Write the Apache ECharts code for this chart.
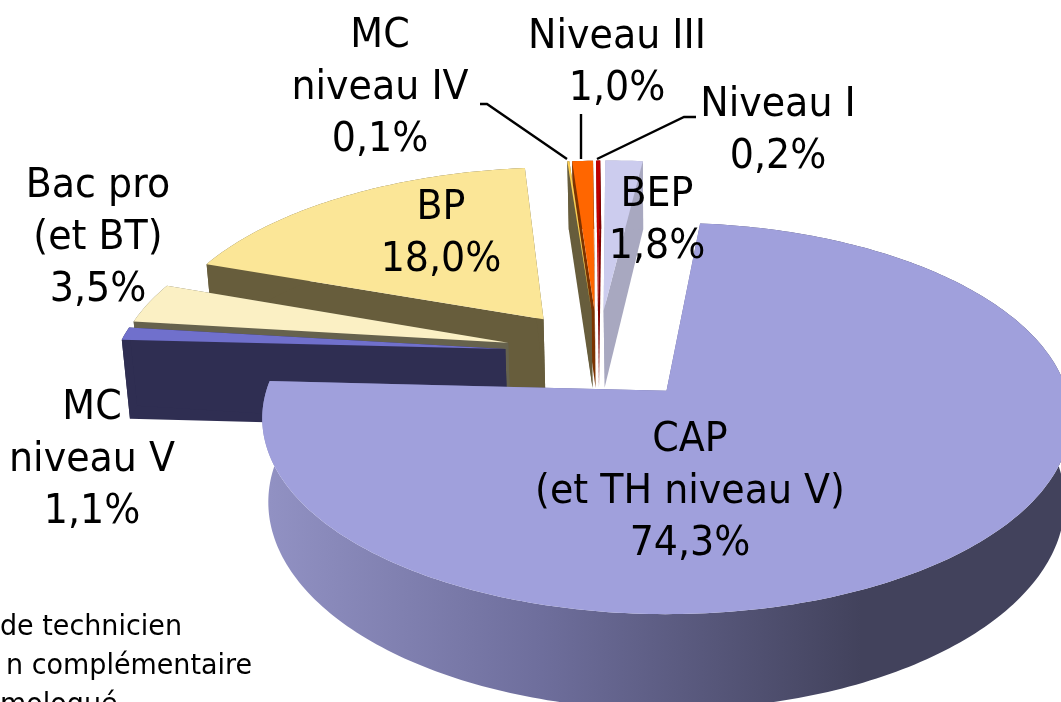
<!DOCTYPE html>
<html>
<head>
<meta charset="utf-8">
<title>Repartition par niveau</title>
<style>
html, body { margin: 0; padding: 0; background: #fff; }
#chart { width: 1061px; height: 702px; }
</style>
<script src="https://cdn.jsdelivr.net/npm/echarts@6/dist/echarts.min.js"></script>
</head>
<body>
<div id="chart"></div>
<script>
// parts en % , sens horaire depuis le haut
var categories = ['CAP', 'MC niveau V', 'Bac pro', 'BP', 'MC niveau IV', 'Niveau III', 'Niveau I', 'BEP'];
var shares = [74.3, 1.1, 3.5, 18.0, 0.1, 1.0, 0.2, 1.8];
var shareLabels = ['74,3%', '1,1%', '3,5%', '18,0%', '0,1%', '1,0%', '0,2%', '1,8%'];
var labelNames = ['CAP\n(et TH niveau V)', 'MC\nniveau V', 'Bac pro\n(et BT)', 'BP', 'MC\nniveau IV', 'Niveau III', 'Niveau I', 'BEP'];
var footnotes = ['de technicien', 'n complémentaire', 'mologué'];

var topColors = ['#a0a0dc', '#7070cc', '#fbf0c4', '#fbe697', '#ffd050', '#ff6600', '#c00000', '#ccccee'];
var wallColors = ['#666699', '#2f2e52', '#66624d', '#675d3c', '#675d3c', '#7d3300', '#800000', '#a8a8c0'];
var labelPos = [[690, 493], [92, 461], [98, 239], [441, 235], [380, 89], [617, 64], [778, 132], [657, 222]];
var explode = [0.27, 0.24, 0.24, 0.24, 0.24, 0.24, 0.24, 0.24];

// projection du disque (perspective simple)
var originX = 666, originY = 390;
var scaleX = 400, scaleY = 191.6;
var persp = 0.1407;
var thick = 82;
var bottomShrink = 0.985;
var pieU = -0.175, pieV = -0.2;//centre du camembert
var firstAngle = 5.5;

function project(u, v, bottom) {
	var w = 1 - persp * v;
	return [
		originX + scaleX * u / w * (bottom ? bottomShrink : 1),
		originY + scaleY * v / w + (bottom ? thick / w : 0)
	];
}

function rad(deg) {
	return deg * Math.PI / 180;
}

function renderSlice(params, api) {
	var share = api.value(0);
	var start = api.value(1);
	var idx = api.value(2);
	var end = start + share * 3.6;
	var mid = rad((start + end) / 2);
	var cu = pieU + explode[idx] * Math.sin(mid);
	var cv = pieV - explode[idx] * Math.cos(mid);

	var topRim = [], bottomRim = [];
	var steps = Math.max(2, Math.ceil(end - start));
	for (var i = 0; i <= steps; i++) {
		var a = rad(start + (end - start) * i / steps);
		topRim.push(project(cu + Math.sin(a), cv - Math.cos(a), false));
		bottomRim.push(project(cu + Math.sin(a), cv - Math.cos(a), true));
	}
	var apexTop = project(cu, cv, false);
	var apexBottom = project(cu, cv, true);
	var wallFill = wallColors[idx];
	if (idx === 0) {
		//degrade du flanc du CAP
		wallFill = new echarts.graphic.LinearGradient(262, 0, 1061, 0, [
			{offset: 0, color: '#9292c4'},
			{offset: 0.35, color: '#6e6e9c'},
			{offset: 0.75, color: '#42425c'},
			{offset: 1, color: '#42425c'}
		], true);
	}

	function poly(points, fill) {
		return {type: 'polygon', shape: {points: points}, style: {fill: fill}};
	}

	var last = topRim.length - 1;
	return {
		type: 'group',
		children: [
			poly([apexTop, topRim[0], bottomRim[0], apexBottom], wallColors[idx]),
			poly([apexTop, topRim[last], bottomRim[last], apexBottom], wallColors[idx]),
			poly(topRim.concat(bottomRim.slice().reverse()), wallFill),
			poly([apexTop].concat(topRim), topColors[idx])
		]
	};
}

// on dessine du fond vers l'avant : CAP en dernier
function buildData() {
	var rows = [];
	var angle = firstAngle;
	for (var i = 0; i < shares.length; i++) {
		rows.push({name: categories[i], value: [shares[i], angle, i]});
		angle += shares[i] * 3.6;
	}
	return rows.reverse();
}

function buildTexts() {
	var items = [];
	for (var i = 0; i < labelNames.length; i++) {
		items.push({
			type: 'text',
			x: labelPos[i][0],
			y: labelPos[i][1],
			scaleX: 0.95,
			z: 10,
			style: {
				text: labelNames[i] + '\n' + shareLabels[i],
				x: 0, y: 0,
				fill: '#000',
				font: '40px "DejaVu Sans"',
				lineHeight: 52,
				align: 'center',
				verticalAlign: 'middle'
			}
		});
	}
	var footX = [0, 6, 0];
	for (var j = 0; j < footnotes.length; j++) {
		items.push({
			type: 'text',
			x: footX[j],
			y: 627 + j * 39,
			scaleX: 0.93,
			z: 10,
			style: {
				text: footnotes[j],
				fill: '#000',
				font: '29px "DejaVu Sans"',
				align: 'left',
				verticalAlign: 'middle'
			}
		});
	}
	// traits de rappel
	var leaders = [
		[[480, 104], [487, 104], [567, 159]],
		[[581, 114], [581, 159]],
		[[597, 159], [684, 117], [696, 117]]
	];
	leaders.forEach(function (pts) {
		items.push({
			type: 'polyline',
			z: 9,
			shape: {points: pts},
			style: {stroke: '#000', lineWidth: 2.4, fill: null}
		});
	});
	return items;
}

var chart = echarts.init(document.getElementById('chart'));
chart.setOption({
	animation: false,
	backgroundColor: '#fff',
	graphic: {elements: buildTexts()},
	series: [{
		type: 'custom',
		coordinateSystem: 'none',
		renderItem: renderSlice,
		silent: true,
		data: buildData()
	}]
});
</script>
</body>
</html>
